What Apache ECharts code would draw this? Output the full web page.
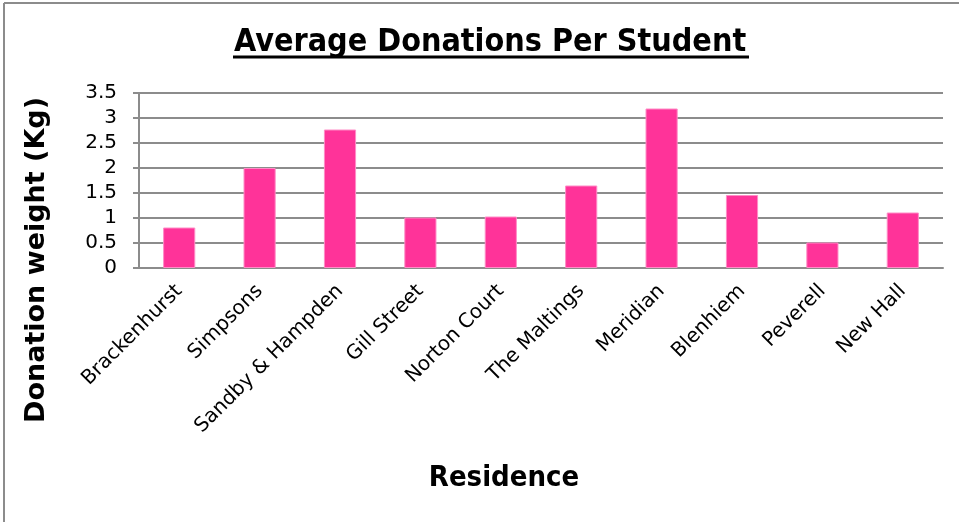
<!DOCTYPE html>
<html>
<head>
<meta charset="utf-8">
<script src="https://cdn.jsdelivr.net/npm/echarts@6/dist/echarts.min.js"></script>
<style>
  html, body { margin: 0; padding: 0; background: #fff; }
  #main { width: 959px; height: 522px; }
</style>
</head>
<body>
<div id="main"></div>
<script>
var residences = ['Brackenhurst', 'Simpsons', 'Sandby & Hampden', 'Gill Street', 'Norton Court',
    'The Maltings', 'Meridian', 'Blenhiem', 'Peverell', 'New Hall'];
var avgDonation = [0.81, 2.0, 2.77, 1.01, 1.03, 1.65, 3.19, 1.46, 0.51, 1.11];

var myChart = echarts.init(document.getElementById('main'));
var option = {
    backgroundColor: '#fff',
    animation: false,
    textStyle: { fontFamily: 'DejaVu Sans' },
    title: {
        text: 'Average Donations Per Student',
        left: 229,
        top: 22,
        textStyle: { fontSize: 32, fontWeight: 'bold', color: '#000', fontFamily: 'DejaVu Sans Condensed' }
    },
    graphic: [
        { type: 'line', shape: { x1: 4, y1: 3, x2: 959, y2: 3 }, style: { stroke: '#8c8c8c', lineWidth: 2 } },
        { type: 'line', shape: { x1: 4, y1: 3, x2: 4, y2: 522 }, style: { stroke: '#8c8c8c', lineWidth: 2 } },
        // underline for the title
        { type: 'line', shape: { x1: 233, y1: 57, x2: 749, y2: 57 }, style: { stroke: '#000', lineWidth: 3 } },
        // axis titles
        {
            type: 'text', x: 37, y: 260, rotation: Math.PI / 2,
            style: { text: 'Donation weight (Kg)', fontSize: 27, fontWeight: 'bold', fill: '#000',
                fontFamily: 'DejaVu Sans', align: 'center', verticalAlign: 'middle' }
        },
        {
            type: 'text', x: 504, y: 478,
            style: { text: 'Residence', fontSize: 29, fontWeight: 'bold', fill: '#000',
                fontFamily: 'DejaVu Sans Condensed', align: 'center', verticalAlign: 'middle' }
        }
    ],
    grid: { left: 139, right: 16, top: 93, bottom: 254 },
    xAxis: {
        type: 'category',
        data: residences,
        axisLine: { lineStyle: { color: '#8c8c8c', width: 2 } },
        axisTick: { show: false },
        axisLabel: { rotate: 45, fontSize: 20, color: '#000', margin: 20, interval: 0 }
    },
    yAxis: {
        type: 'value',
        min: 0,
        max: 3.5,
        interval: 0.5,
        axisLine: { show: true, lineStyle: { color: '#8c8c8c', width: 2 } },
        axisTick: { show: true, length: 6, lineStyle: { color: '#8c8c8c', width: 2 } },
        axisLabel: { fontSize: 20, color: '#000', margin: 22 },
        splitLine: { lineStyle: { color: '#8c8c8c', width: 2 } }
    },
    series: [{
        type: 'bar',
        data: avgDonation,
        barWidth: '40%',
        itemStyle: { color: '#ff3399', borderColor: '#ff8cc6', borderWidth: 1 }
    }]
};
myChart.setOption(option);
</script>
</body>
</html>
